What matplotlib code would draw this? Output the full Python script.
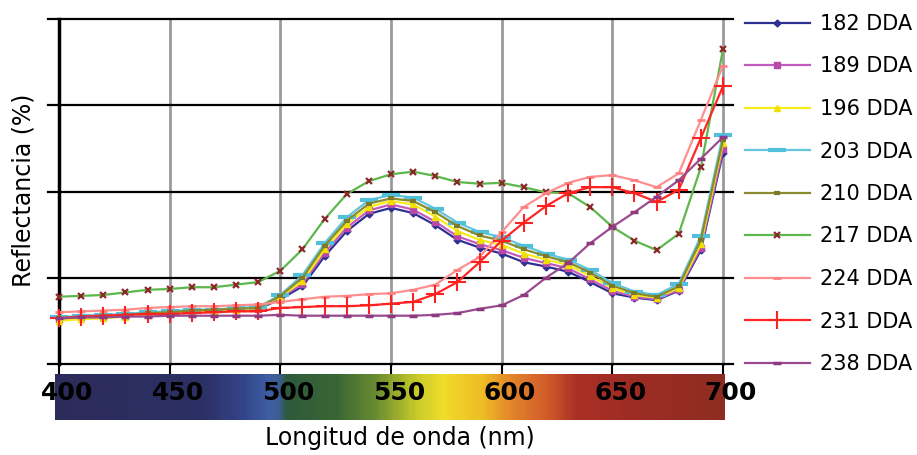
import numpy as np
import matplotlib
matplotlib.use('Agg')
from matplotlib import pyplot as plt
from matplotlib.colors import LinearSegmentedColormap
from matplotlib.transforms import ScaledTranslation

# longitud de onda (nm)
wl = list(range(400, 701, 10))

s182 = [5.3, 5.5, 5.6, 5.7, 5.8, 5.9, 6.1, 6.1, 6.3, 6.4, 7.5, 9.0, 12.5, 15.4, 17.4, 18.1,
        17.5, 16.1, 14.4, 13.5, 12.8, 11.8, 11.3, 10.7, 9.5, 8.2, 7.7, 7.4, 8.5, 13.2, 24.5]
s189 = [5.2, 5.4, 5.5, 5.6, 5.8, 5.9, 6.1, 6.2, 6.3, 6.4, 7.7, 9.3, 12.9, 15.8, 17.8, 18.5,
        17.9, 16.5, 14.8, 13.9, 13.2, 12.3, 11.7, 11.1, 9.8, 8.5, 7.8, 7.5, 8.6, 13.5, 24.9]
s196 = [5.0, 5.2, 5.3, 5.5, 5.7, 5.9, 6.1, 6.2, 6.3, 6.5, 7.8, 9.6, 13.3, 16.2, 18.2, 18.9,
        18.5, 17.1, 15.4, 14.4, 13.8, 12.8, 12.1, 11.5, 10.2, 8.8, 8.0, 7.7, 8.8, 13.9, 25.6]
s203 = [5.4, 5.6, 5.7, 5.8, 6.0, 6.1, 6.3, 6.3, 6.5, 6.6, 8.0, 10.3, 14.0, 17.0, 19.0, 19.6,
        19.3, 18.0, 16.4, 15.3, 14.7, 13.7, 12.8, 12.1, 10.9, 9.4, 8.4, 8.0, 9.3, 14.8, 26.6]
s210 = [5.3, 5.5, 5.6, 5.7, 5.9, 6.0, 6.2, 6.3, 6.4, 6.5, 7.9, 10.0, 13.7, 16.6, 18.6, 19.2,
        18.9, 17.6, 16.0, 14.9, 14.3, 13.3, 12.5, 11.8, 10.6, 9.1, 8.2, 7.8, 9.0, 14.4, 26.0]
s217 = [7.8, 7.9, 8.0, 8.3, 8.6, 8.7, 8.9, 8.9, 9.2, 9.5, 10.8, 13.3, 16.8, 19.7, 21.2, 22.0,
        22.3, 21.8, 21.1, 20.9, 21.0, 20.5, 19.9, 19.8, 18.2, 15.9, 14.3, 13.2, 15.1, 22.8, 36.5]
s224 = [6.0, 6.1, 6.2, 6.3, 6.5, 6.6, 6.7, 6.7, 6.8, 6.9, 7.2, 7.5, 7.8, 7.9, 8.1, 8.2,
        8.6, 9.2, 10.9, 12.4, 15.3, 18.2, 19.8, 21.0, 21.7, 21.9, 21.3, 20.5, 22.1, 28.3, 34.6]
s231 = [5.3, 5.5, 5.6, 5.7, 5.8, 5.8, 5.9, 6.0, 6.1, 6.1, 6.5, 6.6, 6.7, 6.7, 6.8, 7.0,
        7.2, 8.1, 9.5, 11.8, 14.3, 16.4, 18.3, 19.8, 20.5, 20.5, 19.8, 18.8, 20.2, 26.2, 32.2]
s238 = [5.3, 5.4, 5.4, 5.5, 5.5, 5.6, 5.6, 5.6, 5.6, 5.6, 5.7, 5.6, 5.6, 5.6, 5.6, 5.6,
        5.6, 5.7, 5.9, 6.4, 6.8, 8.0, 10.0, 11.7, 14.0, 15.9, 17.6, 19.4, 21.3, 23.8, 26.3]

labels = ['182 DDA', '189 DDA', '196 DDA', '203 DDA', '210 DDA',
          '217 DDA', '224 DDA', '231 DDA', '238 DDA']
series = [s182, s189, s196, s203, s210, s217, s224, s231, s238]

# estilo de cada serie: color, marcador, color marcador, tamaño, grosor
styles = [
    ('#2e3192', 'D', '#2e3192', 3.5, 1.0),
    ('#c45cc0', 's', '#b54aa8', 4.5, 1.0),
    ('#f5ec1a', '^', '#f0e000', 5.0, 1.0),
    ('#63c6de', '_', '#52c0dc', 13, 3.0),
    ('#8a8a2e', '_', '#7a7a28', 5, 3.0),
    ('#5cb84a', 'x', '#8b2a2a', 5, 1.6),
    ('#ff8f8f', '_', '#ff8080', 6, 2.0),
    ('#ff2626', '+', '#ff2020', 13, 1.5),
    ('#9a4a8e', '_', '#8e3a80', 6, 2.5),
]

fig = plt.figure(figsize=(9.17, 4.55), dpi=100)
ax = fig.add_axes([59 / 917, 1 - 364 / 455, 664 / 917, 345 / 455])
ax.set_zorder(2)

for s, lab, (c, m, mc, ms, mw) in zip(series, labels, styles):
    ax.plot(wl, s, color=c, lw=1.6, marker=m, ms=ms, mec=mc, mfc=mc, mew=mw,
            label=lab, zorder=3, clip_on=False)

ax.set_xlim(400, 700)
ax.set_ylim(0, 40)
ax.set_xticks(range(400, 701, 50))
ax.set_yticks([])

# rejilla
for x in range(450, 701, 50):
    ax.axvline(x, color='#9a9a9a', lw=2, zorder=1, clip_on=False)
for y in range(0, 41, 10):
    ax.plot([-0.017, 1.015], [y / 40, y / 40], transform=ax.transAxes,
            color='black', lw=1.6, clip_on=False, zorder=1)

for sp in ['top', 'right', 'bottom']:
    ax.spines[sp].set_visible(False)
ax.spines['left'].set_linewidth(2.5)
ax.tick_params(axis='x', direction='out', length=7, width=1.5, pad=5,
               labelsize=18)
for lbl in ax.get_xticklabels():
    lbl.set_fontweight('bold')
    lbl.set_transform(lbl.get_transform() + ScaledTranslation(8 / 100, 0, fig.dpi_scale_trans))

# barra de colores del espectro
bar = fig.add_axes([55 / 917, 1 - 420 / 455, 670 / 917, 46 / 455])
bar.set_zorder(1)
spec = LinearSegmentedColormap.from_list('spec', [
    (0.00, '#2c2c5c'), (0.22, '#2c3064'), (0.28, '#33458a'), (0.32, '#3f5fa4'),
    (0.335, '#3a5c8c'), (0.345, '#2f5a3c'), (0.42, '#3a6634'), (0.48, '#6a8c32'),
    (0.54, '#c8cc2a'), (0.58, '#f0dc2a'), (0.64, '#eebc24'), (0.68, '#e4882a'),
    (0.74, '#d0582a'), (0.78, '#aa3026'), (0.86, '#9e2c24'), (1.00, '#8e2c22')])
bar.imshow(np.linspace(0, 1, 300)[None, :], aspect='auto', cmap=spec,
           extent=[0, 1, 0, 1])
bar.axis('off')

fig.legend(loc='upper left', bbox_to_anchor=(745 / 917, 1 - 14 / 455),
           frameon=False, fontsize=15, labelspacing=1.08, handlelength=3.1,
           handletextpad=0.5, borderaxespad=0, borderpad=0)

fig.text(24 / 917, 1 - 190 / 455, 'Reflectancia (%)', rotation=90,
         ha='center', va='center', fontsize=17)
fig.text(400 / 917, 1 - 438 / 455, 'Longitud de onda (nm)',
         ha='center', va='center', fontsize=17)

fig.savefig('out.png', dpi=100)
